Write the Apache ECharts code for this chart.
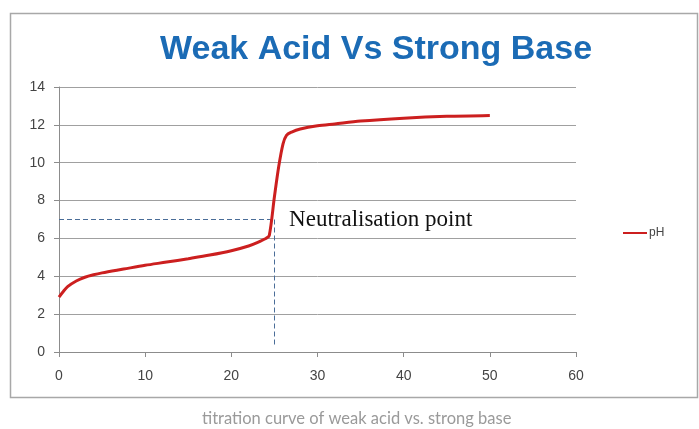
<!DOCTYPE html>
<html>
<head>
<meta charset="utf-8">
<script src="https://cdn.jsdelivr.net/npm/echarts@6/dist/echarts.min.js"></script>
<style>html,body{margin:0;padding:0;background:#fff;}#chart{width:699px;height:429px;}</style>
</head>
<body>
<div id="chart"></div>
<script>
// Data
var titleText = 'Weak Acid Vs Strong Base';
var captionText = 'titration curve of weak acid vs. strong base';
var seriesName = 'pH';
var volume = [0, 0.5, 1, 2, 3, 4, 5, 7.5, 10, 12.5, 15, 17.5, 20, 22, 23, 24, 24.4, 25, 25.5, 26, 26.4, 27, 28, 30, 32, 35, 40, 45, 50];
var pH =     [2.9, 3.2, 3.45, 3.75, 3.95, 4.08, 4.18, 4.38, 4.58, 4.75, 4.93, 5.12, 5.35, 5.6, 5.78, 6.0, 6.15, 8.2, 9.8, 11.0, 11.45, 11.62, 11.78, 11.95, 12.05, 12.2, 12.35, 12.45, 12.5];
var neutralX = 25;
var neutralY = 7;
var neutralLabel = 'Neutralisation point';
var yTicks = [0, 2, 4, 6, 8, 10, 12, 14];
var xTicks = [0, 10, 20, 30, 40, 50, 60];

var data = volume.map(function (v, i) { return [v, pH[i]]; });

var chart = echarts.init(document.getElementById('chart'));
chart.setOption({
  animation: false,
  backgroundColor: '#fff',
  title: [{
    text: titleText,
    left: 155, top: 28,
    textStyle: { fontFamily: 'Liberation Sans', fontWeight: 'bold', fontSize: 34, color: '#1b6bb5' }
  }, {
    text: captionText,
    left: 197, top: 405,
    textStyle: { fontFamily: 'Lato', fontWeight: 'normal', fontSize: 16.5, color: '#9a9a9a' }
  }],
  graphic: [{
    type: 'rect', silent: true,
    shape: { x: 10.5, y: 13.5, width: 687, height: 384 },
    style: { fill: 'none', stroke: '#a8a8a8', lineWidth: 1.5 }
  }],
  legend: {
    left: 618, top: 222,
    itemWidth: 24, itemHeight: 10, itemGap: 2,
    data: [{ name: seriesName, icon: 'path://M0,4 L24,4 L24,6 L0,6 Z' }],
    textStyle: { fontFamily: 'Liberation Sans', fontSize: 12, color: '#444', padding: [0, 0, 0, -3] }
  },
  grid: { left: 59, right: 123, top: 87, bottom: 77 },
  xAxis: {
    type: 'value', min: xTicks[0], max: xTicks[xTicks.length - 1], interval: 10,
    axisLine: { show: true, lineStyle: { color: '#8c8c8c', width: 1 } },
    axisTick: { show: true, length: 5, lineStyle: { color: '#8c8c8c' } },
    axisLabel: { fontFamily: 'Liberation Sans', fontSize: 14, color: '#444', margin: 17 },
    splitLine: { show: false }
  },
  yAxis: {
    type: 'value', min: yTicks[0], max: yTicks[yTicks.length - 1], interval: 2,
    axisLine: { show: true, lineStyle: { color: '#8c8c8c', width: 1 } },
    axisTick: { show: true, length: 5, lineStyle: { color: '#8c8c8c' } },
    axisLabel: { fontFamily: 'Liberation Sans', fontSize: 14, color: '#444', margin: 14 },
    splitLine: { show: true, lineStyle: { color: '#a0a0a0', width: 1 } }
  },
  series: [{
    name: seriesName,
    type: 'line',
    data: data,
    smooth: 0.3,
    symbol: 'none',
    lineStyle: { color: '#cc1f1f', width: 3 },
    itemStyle: { color: '#cc1f1f' },
    z: 3,
    markLine: {
      silent: true, symbol: 'none', z: 2,
      lineStyle: { color: '#4a6d98', type: [5, 3], width: 1 },
      label: { show: false },
      data: [
        [{ coord: [0, neutralY] }, { coord: [neutralX, neutralY] }],
        [{ coord: [neutralX, neutralY] }, { coord: [neutralX, 0.3] }]
      ]
    },
    markPoint: {
      silent: true, symbol: 'circle', symbolSize: 0,
      label: {
        show: true, position: 'right', distance: 0,
        formatter: neutralLabel,
        fontFamily: 'Liberation Serif', fontSize: 23, color: '#111'
      },
      data: [{ coord: [26.7, 6.95] }]
    }
  }]
});
</script>
</body>
</html>
